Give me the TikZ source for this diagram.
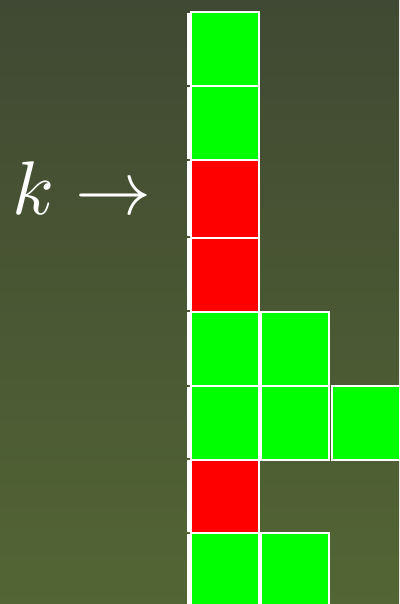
\documentclass[tikz,border=0pt]{standalone}
\usepackage{graphicx}
\begin{document}
\begin{tikzpicture}[x=1pt,y=-1pt,
  cell/.style={draw=white, line width=2pt, minimum width=68pt, inner sep=0pt, outer sep=0pt},
  gcell/.style={cell, fill=green},
  rcell/.style={cell, fill=red},
  barseg/.style={draw=white, line width=3pt}]
\definecolor{bgtop}{RGB}{64,73,51}
\definecolor{bgbot}{RGB}{83,101,52}
\definecolor{green}{RGB}{0,255,0}
\definecolor{red}{RGB}{255,0,0}
\useasboundingbox (0,0) rectangle (399,604);
\shade[top color=bgtop, bottom color=bgbot] (0,0) rectangle (399,604);
% row boundaries
\def\bA{12}\def\bB{86}\def\bC{160}\def\bD{237.5}\def\bE{311.5}\def\bF{386}\def\bG{459.5}\def\bH{533}\def\bI{607.5}
% left bar segments
\foreach \t/\b in {\bA/\bB,\bB/\bC,\bC/\bD,\bD/\bE,\bE/\bF,\bF/\bG,\bG/\bH,\bH/\bI}{
  \draw[barseg] (188.5,\t+0.7) -- (188.5,\b-1.2);
}
% cells
\newcommand{\mycell}[5]{% name, style, colx, top, bottom
  \pgfmathsetmacro{\cy}{(#4+#5)/2}
  \pgfmathsetmacro{\hh}{#5-#4}
  \node[#2, minimum height=\hh pt] (#1) at (#3,\cy) {};
}
\mycell{r1a}{gcell}{225}{\bA}{\bB}
\mycell{r2a}{gcell}{225}{\bB}{\bC}
\mycell{r3a}{rcell}{225}{\bC}{\bD}
\mycell{r4a}{rcell}{225}{\bD}{\bE}
\mycell{r5a}{gcell}{225}{\bE}{\bF}
\mycell{r5b}{gcell}{295}{\bE}{\bF}
\mycell{r6a}{gcell}{225}{\bF}{\bG}
\mycell{r6b}{gcell}{295}{\bF}{\bG}
\mycell{r6c}{gcell}{365.5}{\bF}{\bG}
\mycell{r7a}{rcell}{225}{\bG}{\bH}
\mycell{r8a}{gcell}{225}{\bH}{\bI}
\mycell{r8b}{gcell}{295}{\bH}{\bI}
% label
\node[text=white, anchor=base west, inner sep=0pt] (klabel) at (12,214) {\scalebox{7.6}{$k \rightarrow$}};
\end{tikzpicture}
\end{document}
